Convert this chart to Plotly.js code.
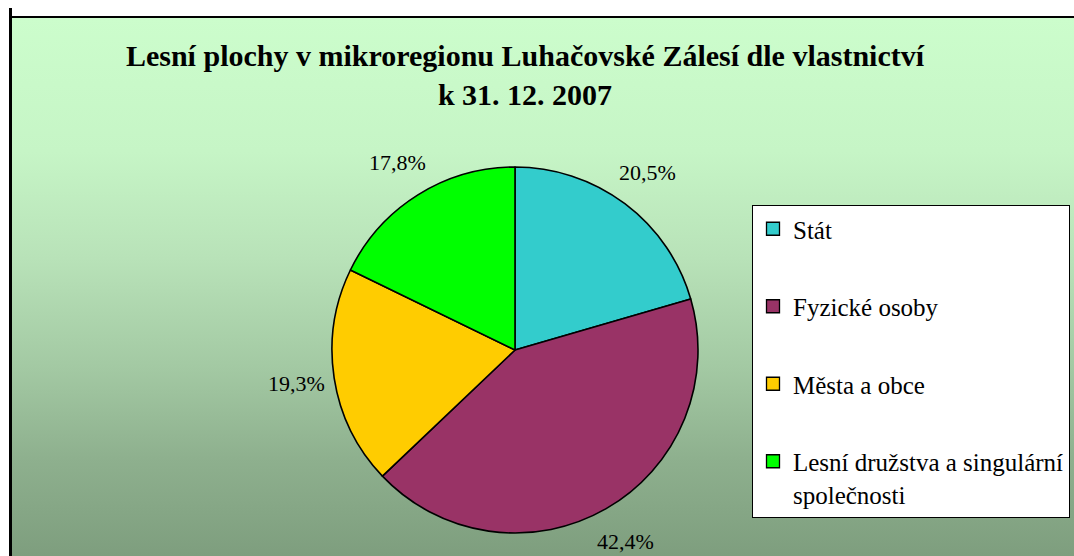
<!DOCTYPE html>
<html>
<head>
<meta charset="utf-8">
<script src="https://cdn.plot.ly/plotly-3.0.1.min.js"></script>
<style>
  html, body { margin: 0; padding: 0; background: #ffffff; }
  #wrap { position: relative; width: 1074px; height: 556px; overflow: hidden; background: #ffffff; }
  #bg { position: absolute; left: 11px; top: 17px; right: 0; bottom: 0;
        background: linear-gradient(to bottom, #ccfdcc 0%, #c6f5c6 25%, #b8e2b8 45%, #a3c9a3 65%, #8eb08e 82%, #7e9e7e 100%); }
  #lineTop { position: absolute; left: 9px; top: 16px; right: 0; height: 2px; background: #000; }
  #lineLeft { position: absolute; left: 9px; top: 8px; width: 3px; bottom: 0; background: #000; }
  #chart { position: absolute; left: 0; top: 0; width: 1074px; height: 556px; }
</style>
</head>
<body>
<div id="wrap">
  <div id="bg"></div>
  <div id="lineTop"></div>
  <div id="lineLeft"></div>
  <div id="chart"></div>
</div>
<script>
const categories = ["Stát", "Fyzické osoby", "Města a obce", "Lesní družstva a singulární<br>společnosti"];
const shares = [20.5, 42.4, 19.3, 17.8];
const sliceColors = ["#33cccc", "#993366", "#ffcc00", "#00ff00"];
const titleLines = ["Lesní plochy v mikroregionu Luhačovské Zálesí dle vlastnictví", "k 31. 12. 2007"];

const W = 1074, H = 556;
const serif = "Liberation Serif";
const pieDomain = { x: [332 / W, 698 / W], y: [23 / H, 389 / H] };

// percentage labels placed outside each slice, at the slice's mid angle
const cx = (pieDomain.x[0] + pieDomain.x[1]) / 2 * W;
const cy = (1 - (pieDomain.y[0] + pieDomain.y[1]) / 2) * H;
const rad = (pieDomain.x[1] - pieDomain.x[0]) * W / 2;
const labelR = rad * 1.21;
const total = shares.reduce((a, b) => a + b, 0);
let cum = 0;
const annotations = shares.map(s => {
  const mid = (cum + s / 2) / total * 2 * Math.PI;
  cum += s;
  const px = cx + labelR * Math.sin(mid);
  const py = cy - labelR * Math.cos(mid);
  return {
    xref: "paper", yref: "paper",
    x: px / W, y: 1 - py / H,
    xanchor: "center", yanchor: "middle",
    showarrow: false,
    text: s.toFixed(1).replace(".", ",") + "%",
    font: { family: serif, size: 22, color: "#000000" }
  };
});

const pieTrace = {
  type: "pie",
  labels: categories,
  values: shares,
  sort: false,
  direction: "clockwise",
  rotation: 0,
  marker: { colors: sliceColors, line: { color: "#000000", width: 1.6 } },
  textinfo: "none",
  hoverinfo: "label+value",
  domain: pieDomain,
  automargin: false,
  showlegend: false
};

// legend-only entries (one group each so the legend can space them like the original)
const legendTraces = categories.map((c, i) => ({
  type: "scatter",
  mode: "markers",
  x: [null], y: [null],
  name: c,
  legendgroup: "g" + i,
  showlegend: true,
  marker: { symbol: "square", size: 13, color: sliceColors[i], line: { color: "#000000", width: 1.3 } },
  hoverinfo: "skip"
}));

const layout = {
  width: W,
  height: H,
  margin: { l: 0, r: 0, t: 0, b: 0, autoexpand: false },
  paper_bgcolor: "rgba(0,0,0,0)",
  plot_bgcolor: "rgba(0,0,0,0)",
  font: { family: serif, color: "#000000" },
  xaxis: { visible: false, fixedrange: true },
  yaxis: { visible: false, fixedrange: true },
  title: {
    text: "<b>" + titleLines.join("<br>") + "</b>",
    font: { family: serif, size: 30, color: "#000000" },
    x: 525 / W,
    xanchor: "center",
    y: 1 - 66 / H,
    yanchor: "top"
  },
  annotations: annotations,
  showlegend: true,
  legend: {
    x: 752 / W,
    xanchor: "left",
    y: 1 - 205 / H,
    yanchor: "top",
    bgcolor: "#ffffff",
    bordercolor: "#000000",
    borderwidth: 1,
    valign: "top",
    tracegroupgap: 42,
    font: { family: serif, size: 25, color: "#000000" },
    traceorder: "grouped"
  }
};

Plotly.newPlot("chart", [pieTrace].concat(legendTraces), layout, { displayModeBar: false, staticPlot: true });
</script>
</body>
</html>
